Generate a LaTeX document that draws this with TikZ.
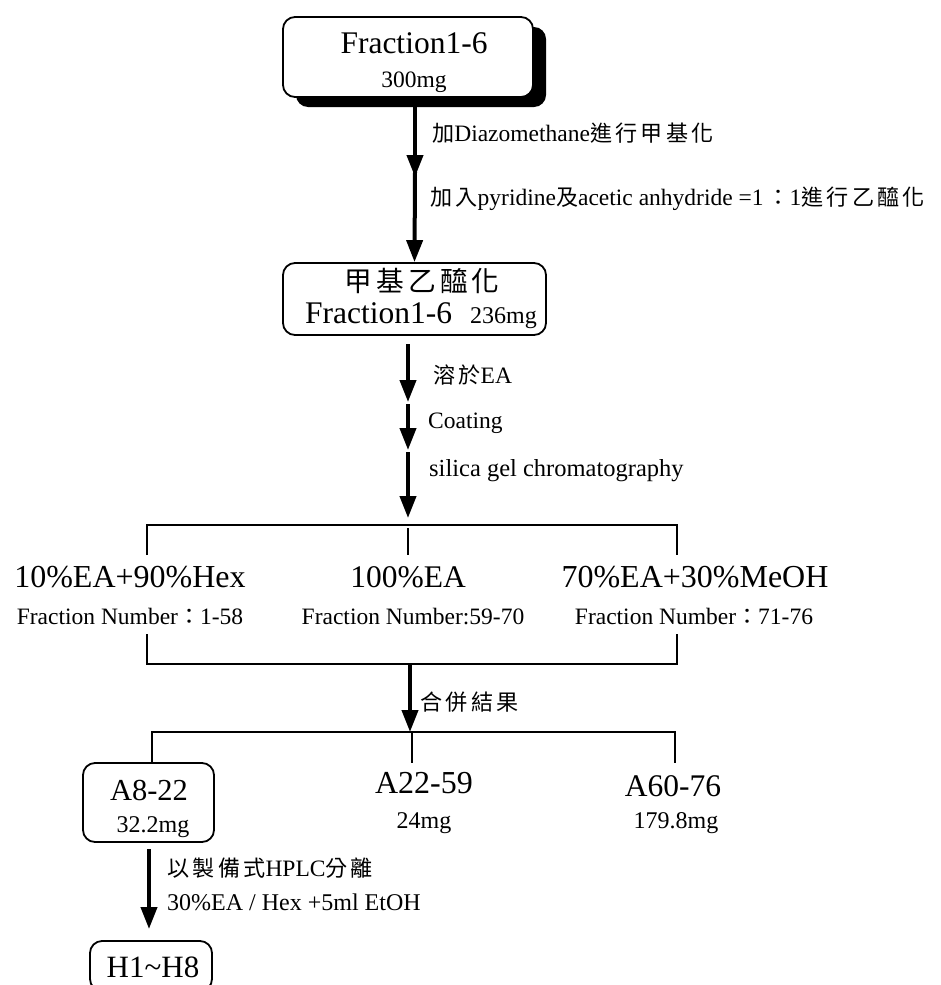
\documentclass[tikz,border=0pt]{standalone}
\usepackage{fontspec}
\setmainfont{Liberation Serif}
\newfontfamily\cjk{Noto Sans CJK TC}[LetterSpace=15, Scale=0.94]
\usetikzlibrary{arrows.meta,shadows}

\begin{document}
\begin{tikzpicture}[x=1pt,y=-1pt,
  txt/.style={inner sep=0pt, anchor=base},
  lbl/.style={inner sep=0pt, anchor=base west, font=\fontsize{23.5}{27}\selectfont},
  rbox/.style={draw, line width=1.8pt, rounded corners=12pt, fill=white, inner sep=0pt},
  flow/.style={line width=4pt, -{Triangle[length=22pt,width=16pt]}},
  tie/.style={line width=1.6pt},
  big/.style={font=\fontsize{31.5}{36}\selectfont},
  small/.style={font=\fontsize{23.5}{28}\selectfont}
]
\useasboundingbox (0,0) rectangle (941,985);

% ---- starting fraction
\node[rbox, minimum width=250pt, minimum height=80pt,
      drop shadow={shadow xshift=13pt, shadow yshift=-10pt, fill=black, opacity=1}]
      (src) at (408,57) {};
\node[txt, big] (srcname) at (414,53) {Fraction1-6};
\node[txt, small] (srcmass) at (414,87) {300mg};

% ---- derivatisation steps
\coordinate (s1) at (415,107);
\coordinate (e1) at (415,177);
\coordinate (s2) at (415,172);
\draw[flow] (s1) -- (e1);
\node[lbl] (step1) at (432,141) {{\cjk 加}Diazomethane{\cjk 進行甲基化}};
\node[lbl] (step2) at (430,205) {{\cjk 加入}pyridine{\cjk 及}acetic anhydride =1\,{\cjk ：}1{\cjk 進行乙醯化}};

% ---- derivatised fraction
\node[rbox, minimum width=263pt, minimum height=72pt] (acet) at (414.5,299) {};
\draw[flow] (s2) -- (acet.north);
\node[txt, font=\cjk\fontsize{29.5}{33}\selectfont] (acetcn) at (422,291) {甲基乙醯化};
\node[txt, anchor=base west, big] (acetname) at (305,323) {Fraction1-6};
\node[txt, anchor=base west, font=\fontsize{24}{28}\selectfont] (acetmass) at (470,323) {236mg};

% ---- column chromatography
\coordinate (s3) at (408,344);
\coordinate (e3) at (408,402);
\coordinate (s4) at (408,404);
\coordinate (e4) at (408,450);
\coordinate (s5) at (408,452);
\coordinate (e5) at (408,518);
\draw[flow] (s3) -- (e3);
\draw[flow] (s4) -- (e4);
\draw[flow] (s5) -- (e5);
\node[lbl] (dissolve) at (433,383) {{\cjk 溶於}EA};
\node[lbl] (coat) at (428,428) {Coating};
\node[lbl, font=\fontsize{24.5}{28}\selectfont] (silica) at (429,476) {silica gel chromatography};

% ---- elution bracket
\coordinate (uL) at (147,525);
\coordinate (uR) at (677,525);
\coordinate (uLd) at (147,555);
\coordinate (uRd) at (677,555);
\coordinate (uM) at (408,528);
\coordinate (uMd) at (408,555);
\draw[tie] (uLd) -- (uL) -- (uR) -- (uRd);
\draw[tie] (uM) -- (uMd);

\node[txt, font=\fontsize{32}{36}\selectfont] (solA) at (130,587) {10\%EA+90\%Hex};
\node[txt, small] (numA) at (130,624) {Fraction Number{\cjk ：}1-58};
\node[txt, big] (solB) at (408,587) {100\%EA};
\node[txt, small] (numB) at (413,624) {Fraction Number:59-70};
\node[txt, font=\fontsize{32}{36}\selectfont] (solC) at (695,587) {70\%EA+30\%MeOH};
\node[txt, small] (numC) at (694,624) {Fraction Number{\cjk ：}71-76};

\coordinate (dLu) at (147,634);
\coordinate (dRu) at (677,634);
\coordinate (dL) at (147,664);
\coordinate (dR) at (677,664);
\draw[tie] (dLu) -- (dL) -- (dR) -- (dRu);

% ---- pooling
\coordinate (pS) at (410,664);
\coordinate (pE) at (410,732);
\draw[flow] (pS) -- (pE);
\node[lbl] (pool) at (420,710) {\cjk 合併結果};

\coordinate (lL) at (152,732);
\coordinate (lR) at (675,732);
\coordinate (lM) at (412,732);
\coordinate (lRd) at (675,763);
\coordinate (lMd) at (412,763);

\node[rbox, minimum width=131pt, minimum height=79pt] (poolA) at (148.5,802.5) {};
\draw[tie] (poolA.north -| lL) -- (lL) -- (lR) -- (lRd);
\draw[tie] (lM) -- (lMd);
\node[txt, font=\fontsize{30.5}{34}\selectfont] (poolAname) at (149,800) {A8-22};
\node[txt, font=\fontsize{24}{28}\selectfont] (poolAmass) at (153,832) {32.2mg};

\node[txt, font=\fontsize{32}{35}\selectfont] (poolBname) at (424,793) {A22-59};
\node[txt, font=\fontsize{24}{28}\selectfont] (poolBmass) at (424,828) {24mg};
\node[txt, font=\fontsize{31.5}{35}\selectfont] (poolCname) at (673,796) {A60-76};
\node[txt, font=\fontsize{24}{28}\selectfont] (poolCmass) at (676,828) {179.8mg};

% ---- preparative HPLC
\coordinate (hS) at (149,849);
\coordinate (hE) at (149,929);
\draw[flow] (hS) -- (hE);
\node[lbl] (hplc) at (167,876) {{\cjk 以製備式}HPLC{\cjk 分離}};
\node[lbl, font=\fontsize{24}{28}\selectfont] (eluent) at (167,910) {30\%EA / Hex +5ml EtOH};

\node[rbox, minimum width=122pt, minimum height=50pt] (prod) at (151,966) {};
\node[txt, font=\fontsize{31}{34}\selectfont] (prodname) at (153,977) {H1\char`\~H8};
\end{tikzpicture}
\end{document}
